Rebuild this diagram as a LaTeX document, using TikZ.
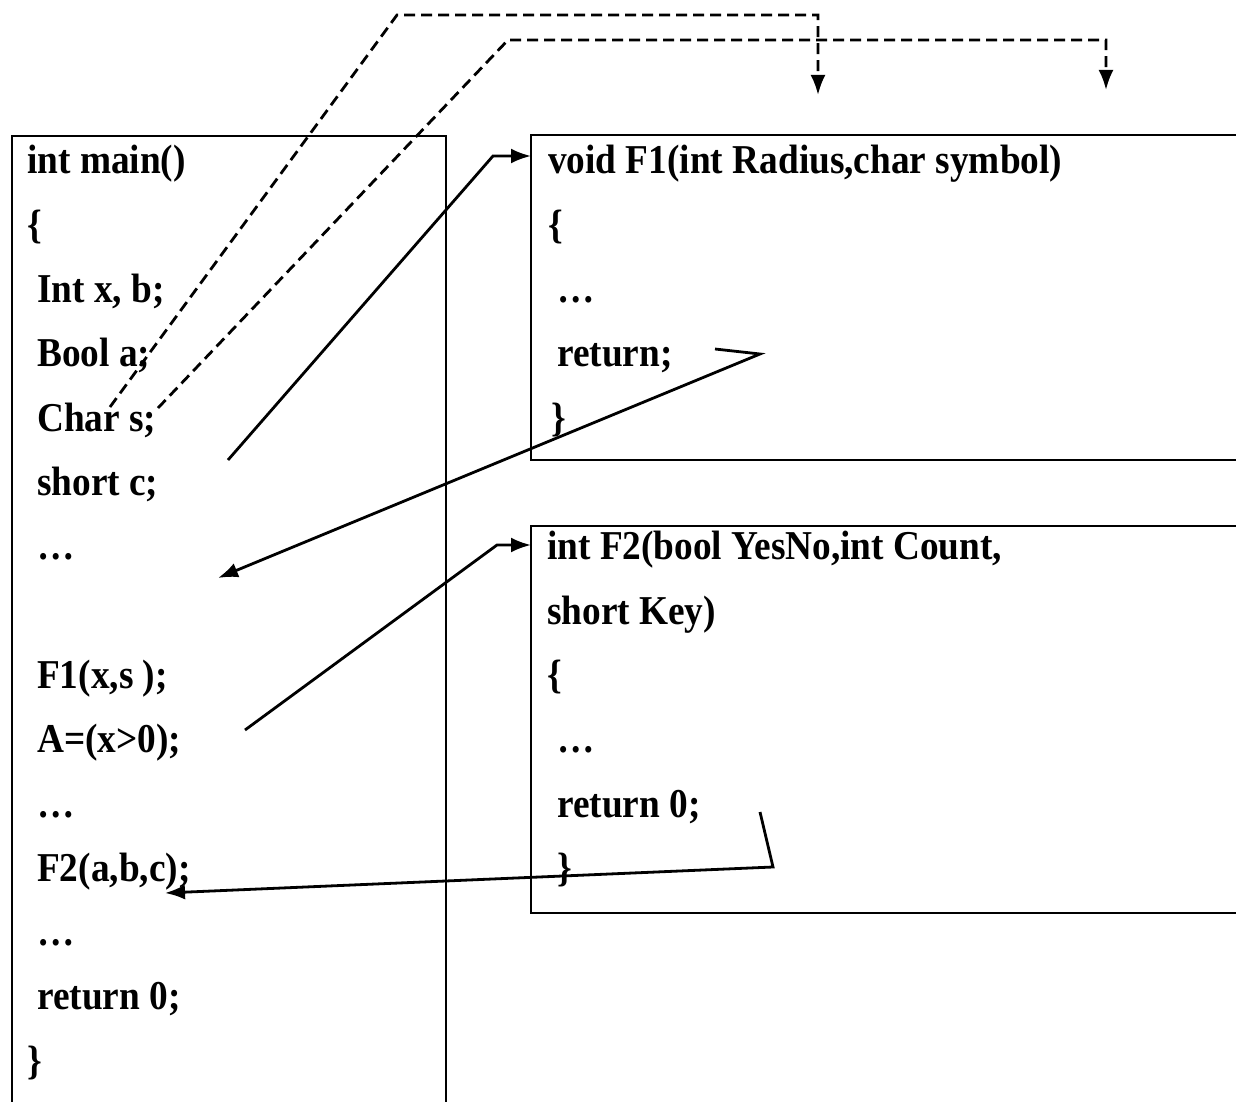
\documentclass[tikz,border=0pt]{standalone}
\usepackage{fontspec}
\setmainfont{Liberation Serif}[FakeStretch=0.91]
\usetikzlibrary{arrows.meta}
\tikzset{
  code/.style={anchor=base west, inner sep=0pt, font=\bfseries\fontsize{41}{44}\selectfont},
  boxframe/.style={draw, line width=2.6pt},
  conn/.style={line width=2.8pt, -{Latex[length=20pt,width=15pt]}},
  dconn/.style={conn, dash pattern=on 11pt off 6pt},
}
\begin{document}
\begin{tikzpicture}[x=1pt,y=-1pt]
\useasboundingbox (0,0) rectangle (1236,1102);
\clip (0,0) rectangle (1236,1102);
% boxes
\draw[boxframe] (12,1120) -- (12,136) -- (446,136) -- (446,1120);
\draw[boxframe] (1250,135) -- (531,135) -- (531,460) -- (1250,460);
\draw[boxframe] (1250,526) -- (531,526) -- (531,913) -- (1250,913);
% main
\def\bl#1{\fpeval{174+64.3*#1}}
\node[code] (m0) at (27,{\bl{0}}) {int main()};
\node[code] (m1) at (27,{\bl{1}}) {\{};
\node[code] (m2) at (37,{\bl{2}}) {Int x, b;};
\node[code] (m3) at (37,{\bl{3}}) {Bool a;};
\node[code] (m4) at (37,{\bl{4}}) {Char s;};
\node[code] (m5) at (37,{\bl{5}}) {short c;};
\node[code] (m6) at (37,{\bl{6}}) {…};
\node[code] (m8) at (37,{\bl{8}}) {F1(x,s );};
\node[code] (m9) at (37,{\bl{9}}) {A=(x>0);};
\node[code] (m10) at (37,{\bl{10}}) {…};
\node[code] (m11) at (37,{\bl{11}}) {F2(a,b,c);};
\node[code] (m12) at (37,{\bl{12}}) {…};
\node[code] (m13) at (37,{\bl{13}}) {return 0;};
\node[code] (m14) at (27,{\bl{14}}) {\}};
% F1
\node[code] (a0) at (548,{\bl{0}}) {void F1(int Radius,char symbol)};
\node[code] (a1) at (548,{\bl{1}}) {\{};
\node[code] (a2) at (557,{\bl{2}}) {…};
\node[code] (a3) at (557,{\bl{3}}) {return;};
\node[code] (a4) at (551,{\bl{4}}) {\}};
% F2
\node[code] (b0) at (547,{\bl{6}}) {int F2(bool YesNo,int Count,};
\node[code] (b1) at (547,{\bl{7}}) {short Key)};
\node[code] (b2) at (547,{\bl{8}}) {\{};
\node[code] (b3) at (557,{\bl{9}}) {…};
\node[code] (b4) at (557,{\bl{10}}) {return 0;};
\node[code] (b5) at (557,{\bl{11}}) {\}};
% connector points
\coordinate (s1) at (110,407);  \coordinate (k1) at (397,15);  \coordinate (k1b) at (818,15);  \coordinate (t1) at (818,95);
\coordinate (s2) at (158,408);  \coordinate (k2) at (508,40);  \coordinate (k2b) at (1106,40); \coordinate (t2) at (1106,90);
\coordinate (s3) at (228,460);  \coordinate (k3) at (493,156); \coordinate (t3) at (531,156);
\coordinate (s4) at (715,349);  \coordinate (k4) at (760,354); \coordinate (t4) at (218,578);
\coordinate (s5) at (245,730);  \coordinate (k5) at (497,545); \coordinate (t5) at (531,545);
\coordinate (s6) at (760,812);  \coordinate (k6) at (773,867); \coordinate (t6) at (165,893);
\draw[dconn] (s1) -- (k1) -- (k1b) -- (t1);
\draw[dconn] (s2) -- (k2) -- (k2b) -- (t2);
\draw[conn] (s3) -- (k3) -- (t3);
\draw[conn] (s4) -- (k4) -- (t4);
\draw[conn] (s5) -- (k5) -- (t5);
\draw[conn] (s6) -- (k6) -- (t6);
\end{tikzpicture}
\end{document}
